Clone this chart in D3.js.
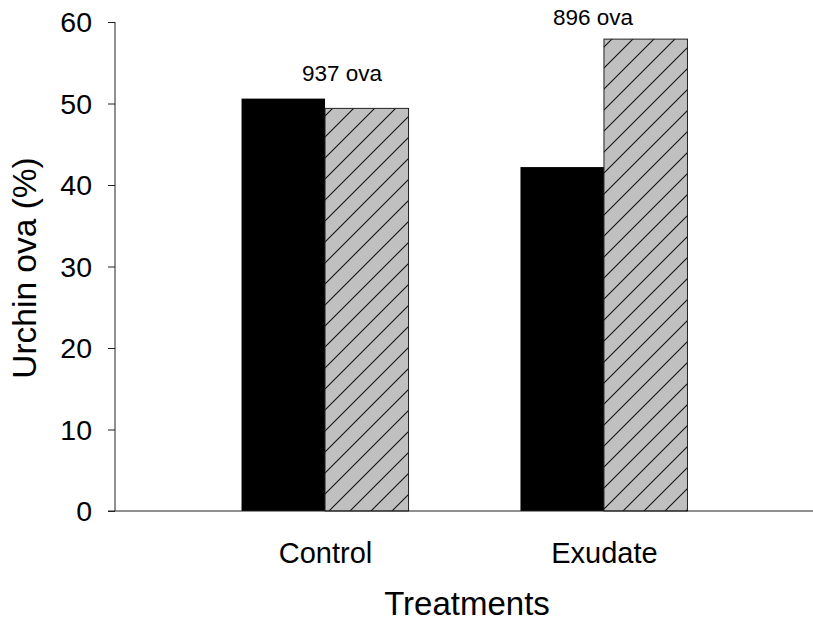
<!DOCTYPE html>
<html><head><meta charset="utf-8">
<script src="https://cdn.jsdelivr.net/npm/d3@7"></script>
<style>body{margin:0;background:#fff}svg{display:block}text{font-family:Arial,"Liberation Sans",sans-serif}</style>
</head><body>
<svg id="c" width="813" height="624"></svg>
<script>
const categories = ["Control", "Exudate"];
const solidValues = [50.6, 42.2];
const hatchedValues = [49.4, 57.9];
const annotations = ["937 ova", "896 ova"];
const yTicks = [0, 10, 20, 30, 40, 50, 60];

const svg = d3.select("#c");
const y = d3.scaleLinear().domain([0, 60]).range([511, 22]);
const x = d3.scalePoint().domain(categories).range([115, 814]).padding(0.753);
const bw = 83.5;

const defs = svg.append("defs");
const pat = defs.append("pattern").attr("id","hatch").attr("patternUnits","userSpaceOnUse")
  .attr("width",21).attr("height",21);
pat.append("rect").attr("width",21).attr("height",21).attr("fill","#c0c0c0");
pat.append("path").attr("d","M-2,2 L2,-2 M0,21 L21,0 M19,23 L23,19").attr("stroke","#111").attr("stroke-width",1.1);

// bars
svg.selectAll(".solid").data(categories).enter().append("rect")
  .attr("x", d => x(d) - bw).attr("width", bw)
  .attr("y", (d,i) => y(solidValues[i])).attr("height", (d,i) => y(0) - y(solidValues[i]))
  .attr("fill", "#000");
svg.selectAll(".hatch").data(categories).enter().append("rect")
  .attr("x", d => x(d)).attr("width", bw)
  .attr("y", (d,i) => y(hatchedValues[i])).attr("height", (d,i) => y(0) - y(hatchedValues[i]))
  .attr("fill", "url(#hatch)").attr("stroke","#222").attr("stroke-width",1);

// annotations (anchored above the bar group)
svg.selectAll(".ann").data(categories).enter().append("text")
  .attr("x", (d,i) => i===0 ? x(d)+17 : x(d)-11)
  .attr("y", (d,i) => i===0 ? y(solidValues[i]) - 18 : y(hatchedValues[i]) - 14)
  .attr("text-anchor","middle").attr("font-size",22.5).attr("fill","#000")
  .text((d,i) => annotations[i]);

// y axis
const ya = svg.append("g").attr("transform","translate(115,0)")
  .call(d3.axisLeft(y).tickValues(yTicks).tickSize(7).tickPadding(16));
ya.select(".domain").attr("d","M0,22V511").attr("stroke","#222");
ya.selectAll(".tick line").attr("stroke","#222");
ya.selectAll(".tick text").attr("font-size",28.5).attr("fill","#000").attr("dy","0.35em")
  .attr("font-family","Arial,'Liberation Sans',sans-serif");

// x axis
const xa = svg.append("g").attr("transform","translate(0,511)")
  .call(d3.axisBottom(x).tickSize(0).tickPadding(30));
xa.select(".domain").attr("d","M108,0H814").attr("stroke","#222");
xa.selectAll(".tick text").attr("font-size",29).attr("fill","#000").attr("dy",null).attr("y",52)
  .attr("font-family","Arial,'Liberation Sans',sans-serif");

svg.append("text").attr("x",467).attr("y",615).attr("text-anchor","middle")
  .attr("font-size",33).text("Treatments");
svg.append("text").attr("transform","translate(36,268) rotate(-90)").attr("text-anchor","middle")
  .attr("font-size",33.5).text("Urchin ova (%)");
</script>
</body></html>
